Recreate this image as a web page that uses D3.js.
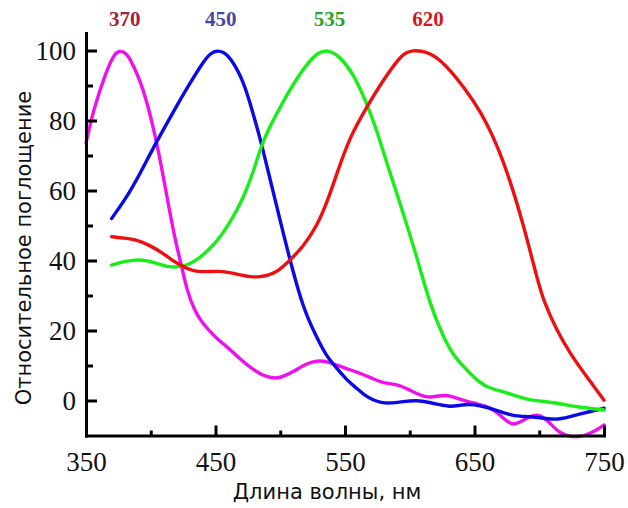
<!DOCTYPE html>
<html>
<head>
<meta charset="utf-8">
<script src="https://cdn.jsdelivr.net/npm/d3@7"></script>
<style>
  html, body { margin: 0; padding: 0; background: #fff; }
  svg { display: block; }
</style>
</head>
<body>
<svg id="chart" width="628" height="508"></svg>
<script>
// Absorption spectra of four pigments (relative absorption, %), by wavelength in nm
const violetNm  = [350, 355.6, 366, 371.5, 375.7, 380, 384, 391.7, 398, 403, 408.5, 414.8, 420, 424, 427.8, 434, 440, 450, 460, 470, 480, 490, 499.8, 510, 520, 528, 536, 543.6, 552, 561.6, 570, 579.6, 590, 600, 610.5, 615.6, 622, 628.5, 635, 641.4, 650, 659.4, 665, 669.7, 675, 680, 685, 690.3, 695, 699.3, 704, 708.3, 716, 723.7, 730, 736.6, 744.4, 750];
const violetVal = [73.5, 83, 94.4, 98.8, 100, 99.5, 97.8, 91.6, 84, 76.4, 66.5, 53.5, 44, 38.2, 31.6, 25.5, 22, 18, 15, 11.5, 8.5, 6.5, 6.3, 8.2, 10.5, 11.4, 11.2, 10.1, 9, 7.8, 6.5, 4.9, 4.7, 3, 1.1, 0.9, 1.3, 1.6, 0.8, 0.1, -0.8, -1.6, -2.8, -4.1, -6, -7, -6.2, -5.1, -4.3, -4.1, -5, -6.5, -9.4, -10.3, -10.4, -9.9, -8.4, -7];

const blueNm  = [369.8, 384, 394, 404.6, 417.4, 430, 440.6, 446, 451, 456, 461, 471.5, 479, 484.4, 490, 499.8, 507.5, 518, 528, 535, 543.6, 551, 559, 565, 571.8, 578, 584.7, 595, 605.4, 615.6, 623, 631, 638, 646.5, 654, 662, 670, 677.4, 685, 692.9, 702, 710.9, 717, 723.7, 731, 739, 750];
const blueVal = [52, 59.5, 66.5, 74, 82.5, 90.5, 96.8, 99.2, 100, 99.6, 98.2, 91.6, 82, 75, 66.5, 51.6, 40.1, 25.9, 18.2, 13, 9.2, 6, 3.5, 1.5, 0.1, -0.6, -0.8, -0.3, 0.1, -0.6, -1.2, -1.8, -1.4, -1, -1.5, -2.2, -3.2, -4.1, -4.5, -4.6, -5, -5.4, -5.2, -4.6, -3.9, -3.2, -2.2];

const greenNm  = [369.8, 377, 384, 394, 404.6, 414.8, 422.6, 429, 435.5, 448.3, 461, 471.5, 479, 485, 491, 497.3, 510, 523, 529.5, 534.6, 540, 546, 556.4, 566.8, 574.5, 583.4, 595, 605.4, 616, 625.9, 633, 641.4, 654.2, 662, 672.2, 683, 693, 702, 711, 720, 729, 740, 750];
const greenVal = [38.7, 39.5, 40, 40.3, 39.2, 38, 38.2, 38.8, 40.1, 44, 50.6, 57.8, 65, 72.5, 77.5, 82, 90.6, 97.3, 99.4, 100, 99.6, 98.2, 93.5, 84.9, 77.3, 66.5, 53.5, 41.1, 27, 18.2, 13.3, 9.7, 4.9, 3.5, 2.5, 1.2, 0.1, -0.2, -0.6, -1.2, -1.8, -2.3, -2.7];

const redNm  = [369.8, 380, 389, 399, 409.7, 416, 422.6, 432.9, 443.2, 453.5, 462, 469, 477, 484.4, 491, 497.3, 502, 507.5, 517.8, 528, 535.9, 544.8, 553.9, 566.8, 579.6, 592.5, 597.5, 602.7, 609, 615.6, 623.4, 632, 641.4, 654.2, 667, 677.4, 687.5, 698, 703, 713.4, 723.7, 736.6, 750];
const redVal = [46.8, 46.4, 45.9, 44.4, 42, 40.2, 38.7, 36.8, 36.8, 37, 36.5, 35.9, 35.3, 35.3, 35.8, 36.8, 38.2, 40.1, 44, 49.7, 56.3, 66, 75.4, 83.9, 91.6, 98.2, 99.5, 100, 99.9, 99.2, 97.3, 94, 89.7, 83, 73.5, 63, 50.6, 35.4, 28.7, 20.1, 13.5, 6.8, 0.1];

// Peak wavelengths printed above the plot, and the wavelength each label is centred on
const peakLabels = ["370", "450", "535", "620"];
const peakLabelAt = [380, 454, 538, 614];

// Axis ticks
const xMajorTicks = [350, 450, 550, 650, 750];
const xMinorTicks = [400, 500, 600, 700];
const yMajorTicks = [0, 20, 40, 60, 80, 100];
const yMinorTicks = [10, 30, 50, 70, 90];

const xTitle = "Длина волны, нм";
const yTitle = "Относительное поглощение";

const series = [
  { nm: violetNm, val: violetVal, color: "#f010ee" },
  { nm: blueNm,   val: blueVal,   color: "#0a0ae6" },
  { nm: greenNm,  val: greenVal,  color: "#18ee18" },
  { nm: redNm,    val: redVal,    color: "#ee1010" }
];
const peakColors = ["#a81c3a", "#4848a4", "#28a428", "#d41818"];

const svg = d3.select("#chart");
const x = d3.scaleLinear().domain([350, 750]).range([86, 604]);
const y = d3.scaleLinear().domain([-10, 105]).range([435.5, 33]);
const serif = "'Liberation Serif', 'Times New Roman', serif";
const sans = "'DejaVu Sans', sans-serif";

// Curves
const line = d3.line()
  .x(d => x(d[0]))
  .y(d => y(d[1]))
  .curve(d3.curveBasis);

svg.append("g").selectAll("path")
  .data(series)
  .join("path")
  .attr("d", s => line(s.nm.map((n, i) => [n, s.val[i]])))
  .attr("fill", "none")
  .attr("stroke", s => s.color)
  .attr("stroke-width", 3.4)
  .attr("stroke-linejoin", "round")
  .attr("stroke-linecap", "round");

// Y axis (ticks point inward)
svg.append("g").attr("transform", `translate(${x(350)},0)`)
  .call(d3.axisLeft(y).tickValues(yMajorTicks).tickSize(-11).tickSizeOuter(0).tickPadding(10));
svg.append("g").attr("transform", `translate(${x(350)},0)`)
  .call(d3.axisLeft(y).tickValues(yMinorTicks).tickSize(-7).tickSizeOuter(0).tickFormat(""))
  .call(g => g.select(".domain").remove());

// X axis
svg.append("g").attr("transform", `translate(0,${y(-10)})`)
  .call(d3.axisBottom(x).tickValues(xMajorTicks).tickSize(-10).tickSizeOuter(0).tickPadding(16));
svg.append("g").attr("transform", `translate(0,${y(-10)})`)
  .call(d3.axisBottom(x).tickValues(xMinorTicks).tickSize(-5).tickSizeOuter(0).tickFormat(""))
  .call(g => g.select(".domain").remove());

svg.selectAll(".domain").attr("stroke", "#000").attr("stroke-width", 3).attr("stroke-linecap", "square");
svg.selectAll(".tick line").attr("stroke", "#000").attr("stroke-width", 3);
svg.selectAll(".tick text")
  .attr("fill", "#111")
  .style("font-family", serif)
  .style("font-size", "27px");

// Peak labels
svg.append("g").selectAll("text")
  .data(peakLabels)
  .join("text")
  .attr("x", (d, i) => x(peakLabelAt[i]))
  .attr("y", 26)
  .attr("text-anchor", "middle")
  .attr("fill", (d, i) => peakColors[i])
  .style("font-family", serif)
  .style("font-weight", "bold")
  .style("font-size", "21px")
  .text(d => d);

// Axis titles
svg.append("text")
  .attr("x", 327)
  .attr("y", 499)
  .attr("text-anchor", "middle")
  .attr("fill", "#111")
  .style("font-family", sans)
  .style("font-size", "21px")
  .text(xTitle);

svg.append("text")
  .attr("transform", "translate(31,248) rotate(-90)")
  .attr("text-anchor", "middle")
  .attr("fill", "#111")
  .style("font-family", sans)
  .style("font-size", "21px")
  .text(yTitle);
</script>
</body>
</html>
